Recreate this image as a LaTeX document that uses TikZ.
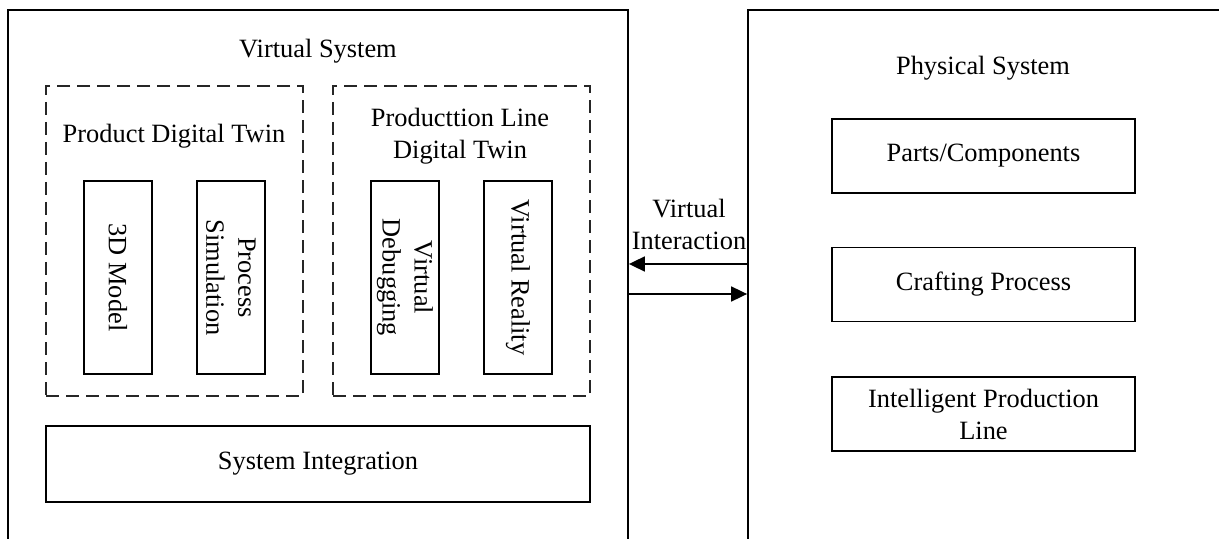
\documentclass[tikz,border=0pt]{standalone}
\usepackage{fontspec}
\setmainfont{Liberation Serif}
\usetikzlibrary{arrows.meta,fit}
\begin{document}
\begin{tikzpicture}[>={Triangle[length=8pt,width=7.5pt]},x=0.5pt,y=-0.5pt,
 every node/.style={font=\fontsize{13.2}{16}\selectfont,align=center},
 box/.style={draw,line width=0.9pt,inner sep=0pt},
 twin/.style={draw=black!85,line width=0.9pt,dash pattern=on 6.5pt off 3.5pt,minimum width=128.5pt,minimum height=155pt,inner sep=0pt},
 vbox/.style={box,rotate=-90,minimum width=96.5pt,minimum height=34pt},
 pbox/.style={box,minimum width=151.5pt,minimum height=37pt}]
 \useasboundingbox (0,0) rectangle (1219,539);
 \clip (0,0) rectangle (1219,539);
 % the two systems run off the page
 \node[box,fit={(8,10)(628,600)}] (virt) {};
 \node[box,fit={(748,10)(1260,600)}] (phys) {};
 \node (virtt) at (318,51) {Virtual System};
 \node (physt) at (983,68) {Physical System};
 % virtual side
 \node[twin] (pdt) at (174.5,241) {};
 \node[twin] (ldt) at (461.5,241) {};
 \node (pdtt) at (174,136) {Product Digital Twin};
 \node (ldtt) at (460,136) {Producttion Line\\Digital Twin};
 \node[vbox] (model) at (118,277.5) {3D Model};
 \node[vbox] (simu) at (231,277.5) {Process\\Simulation};
 \node[vbox] (debug) at (405,277.5) {Virtual\\Debugging};
 \node[vbox] (vr) at (518,277.5) {Virtual Reality};
 \node[box,minimum width=272pt,minimum height=38pt] (integ) at (318,464) {System Integration};
 % physical side
 \node[pbox] (parts) at (983.5,156) {Parts/Components};
 \node[pbox] (craft) at (983.5,284.5) {Crafting Process};
 \node[pbox] (line) at (983.5,414) {Intelligent Production\\Line};
 % interaction
 \node (inter) at (689,224) {Virtual\\Interaction};
 \coordinate (inL) at (748,264);
 \coordinate (inR) at (628,294);
 \draw[->,line width=0.9pt] (phys.west |- inL) -- (virt.east |- inL);
 \draw[->,line width=0.9pt] (virt.east |- inR) -- (phys.west |- inR);
\end{tikzpicture}
\end{document}
